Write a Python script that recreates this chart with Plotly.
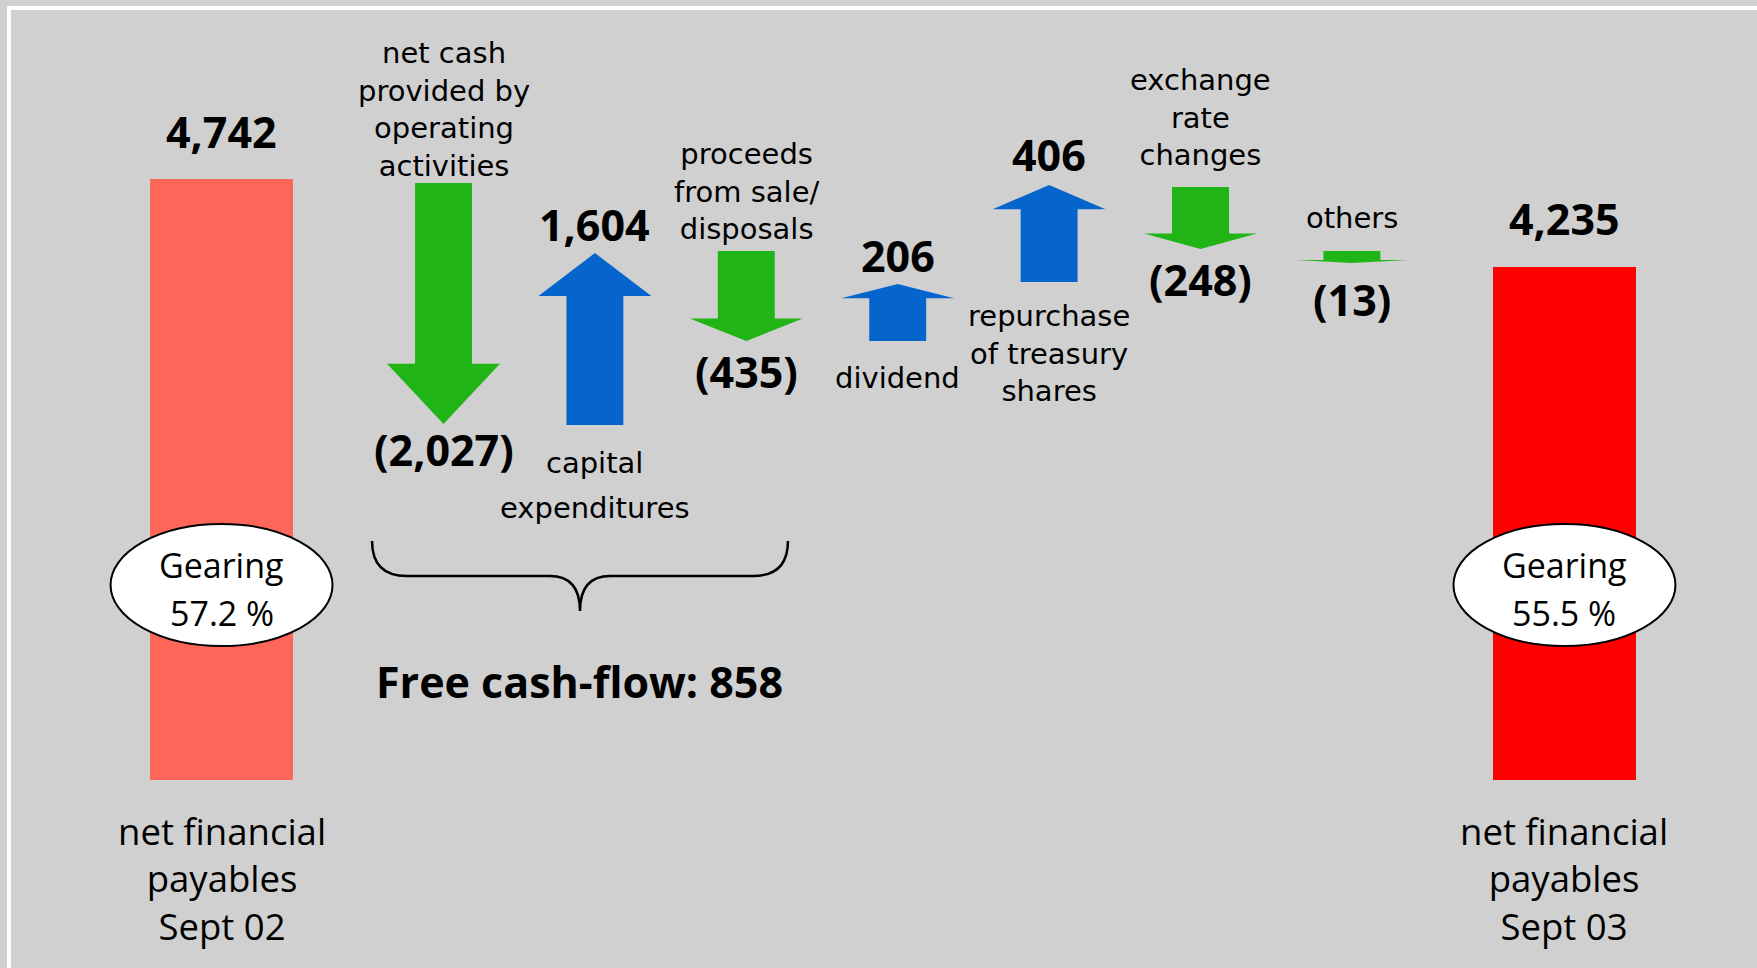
import plotly.graph_objects as go

# ---------------- data ----------------
categories = [
    "net financial\npayables\nSept 02",
    "net cash\nprovided by\noperating\nactivities",
    "capital\nexpenditures",
    "proceeds\nfrom sale/\ndisposals",
    "dividend",
    "repurchase\nof treasury\nshares",
    "exchange\nrate\nchanges",
    "others",
    "net financial\npayables\nSept 03",
]
values = [4742, -2027, 1604, -435, 206, 406, -248, -13, 4235]
value_labels = ["4,742", "(2,027)", "1,604", "(435)", "206", "406", "(248)", "(13)", "4,235"]
# The original is drawn schematically (not to scale): start / end levels of each
# bar and arrow as drawn, in units of the left bar (4,742).
drawn_from = [0, 4710, 2801, 4174, 3464, 3929, 4679, 4174, 0]
drawn_to = [4742, 2809, 4158, 3464, 3913, 4695, 4190, 4079, 4048]
gearing_pct = [57.2, 55.5]
free_cash_flow = 858

# ---------------- style / layout ----------------
W, H = 1757, 968
BG = "#D0D0D0"
GREEN = "#20B416"
BLUE = "#0565CC"
BAR_COLORS = ["#FF665A", "#FF0000"]
FONT = "Open Sans, Noto Sans, Liberation Sans, sans-serif"
LABEL_FONT = "DejaVu Sans, Open Sans, sans-serif"

SLOT_PX = 151.4          # distance between arrows in pixels
FIRST_PX = 443.5         # pixel x of first arrow
BASE_PX = 780            # pixel y of value 0
K = 601 / 4742           # pixels per unit on the value axis
BAR_BEFORE, BAR_AFTER = 1.466, 1.404
BAR_W = 0.944
SHAFT_HW, HEAD_HW, HEAD_FRAC = 0.188, 0.373, 0.25
LINE_SPACING = 1.3       # plotly's multi-line spacing (em)

LABEL_FS, BOTTOM_FS, VALUE_FS = 29, 36.5, 43
cat_gap = [51, 17.5, 38, 21.3, 37, 33.3, 31.3, 32.5, 51]
line_sp = [None, None, 45, None, None, None, None, None, None]  # None -> plotly spacing
val_gap = [48, 26, 29, 31, 29, 30, 31, 36, 48]


def px_to_val(dy_px):
    return dy_px / K


n = len(values)
xs = [0.0] * n
for i in range(1, n - 1):
    xs[i] = float(i - 1)
xs[0] = -BAR_BEFORE
xs[-1] = (n - 3) + BAR_AFTER

fig = go.Figure()

# bars
fig.add_trace(go.Bar(
    x=[xs[0], xs[-1]], y=[drawn_to[0] - drawn_from[0], drawn_to[-1] - drawn_from[-1]],
    base=[drawn_from[0], drawn_from[-1]], width=BAR_W,
    marker=dict(color=BAR_COLORS, line=dict(width=0)), hoverinfo="skip",
))

# arrows
for i in range(1, n - 1):
    a, b = drawn_from[i], drawn_to[i]
    hb = b - HEAD_FRAC * (b - a)
    x = xs[i]
    px_ = [x - SHAFT_HW, x - SHAFT_HW, x - HEAD_HW, x, x + HEAD_HW, x + SHAFT_HW, x + SHAFT_HW, x - SHAFT_HW]
    py_ = [a, hb, hb, b, hb, hb, a, a]
    col = BLUE if values[i] > 0 else GREEN
    fig.add_trace(go.Scatter(x=px_, y=py_, mode="lines", fill="toself", fillcolor=col,
                             line=dict(width=0, color=col), hoverinfo="skip"))

ann = []


def add_text(x, y, text, yshift, size, bold=False, family=FONT):
    ann.append(dict(x=x, y=y, xref="x", yref="y", text=text, showarrow=False,
                    yshift=yshift, xanchor="center", yanchor="middle", align="center",
                    font=dict(family=family, size=size, color="black",
                              weight="bold" if bold else "normal")))


def add_label(x, y, lines, gap, direction, size, family, spacing=None):
    """direction +1: label above y (last line nearest), -1: below (first line nearest)."""
    k = len(lines)
    if spacing is None:
        sp = LINE_SPACING * size
        centre = gap + (k - 1) / 2 * sp
        add_text(x, y, "<br>".join(lines), direction * centre, size, family=family)
    else:
        for j, line in enumerate(lines):
            off = (k - 1 - j) if direction > 0 else j
            add_text(x, y, line, direction * (gap + off * spacing), size, family=family)


for i in range(n):
    lines = categories[i].split("\n")
    x = xs[i]
    if i in (0, n - 1):
        add_label(x, 0, lines, cat_gap[i], -1, BOTTOM_FS, FONT, line_sp[i])
        add_text(x, drawn_to[i], value_labels[i], val_gap[i], VALUE_FS, True)
        continue
    up = values[i] > 0
    add_label(x, drawn_from[i], lines, cat_gap[i], -1 if up else 1, LABEL_FS, LABEL_FONT, line_sp[i])
    add_text(x, drawn_to[i], value_labels[i], val_gap[i] if up else -val_gap[i], VALUE_FS, True)

shapes = []
# gearing ellipses
g_center = px_to_val(BASE_PX - 585)
for xb, g in zip([xs[0], xs[-1]], gearing_pct):
    shapes.append(dict(type="circle", xref="x", yref="y",
                       x0=xb - 0.733, x1=xb + 0.733,
                       y0=g_center - px_to_val(61), y1=g_center + px_to_val(61),
                       fillcolor="white", line=dict(color="black", width=2), layer="above"))
    add_text(xb, g_center, "Gearing", 20, 34)
    add_text(xb, g_center, f"{g:.1f} %", -28, 34)

# brace under the free cash-flow items (arrows 1..3)
bx0 = xs[1] - 0.472
bx1 = xs[3] + 0.275
bxm = (bx0 + bx1) / 2
y_top = px_to_val(BASE_PX - 541)
y_h = px_to_val(BASE_PX - 576)
y_tip = px_to_val(BASE_PX - 611)
r1, r2 = 0.23, 0.2
path = (f"M {bx0},{y_top} Q {bx0},{y_h} {bx0 + r1},{y_h} L {bxm - r2},{y_h} "
        f"Q {bxm},{y_h} {bxm},{y_tip} Q {bxm},{y_h} {bxm + r2},{y_h} "
        f"L {bx1 - r1},{y_h} Q {bx1},{y_h} {bx1},{y_top}")
shapes.append(dict(type="path", xref="x", yref="y", path=path,
                   line=dict(color="black", width=2.5), layer="above"))
add_text(bxm, y_tip, f"Free cash-flow: {free_cash_flow}", -70, 43, True)

# white frame
shapes.append(dict(type="rect", xref="paper", yref="paper",
                   x0=9 / W, x1=1.2, y0=-0.2, y1=1 - 8 / H,
                   line=dict(color="white", width=4), fillcolor="rgba(0,0,0,0)", layer="below"))

fig.update_layout(
    width=W, height=H, autosize=False,
    margin=dict(l=0, r=0, t=0, b=0, pad=0),
    paper_bgcolor=BG, plot_bgcolor=BG,
    showlegend=False, annotations=ann, shapes=shapes,
    xaxis=dict(range=[-FIRST_PX / SLOT_PX, (W - FIRST_PX) / SLOT_PX], visible=False, fixedrange=True),
    yaxis=dict(range=[-(H - BASE_PX) / K, BASE_PX / K], visible=False, fixedrange=True),
    bargap=0,
)

fig.write_html("out.html", config={"displayModeBar": False},
               post_script="document.body.style.margin='0';document.body.style.overflow='hidden';")
